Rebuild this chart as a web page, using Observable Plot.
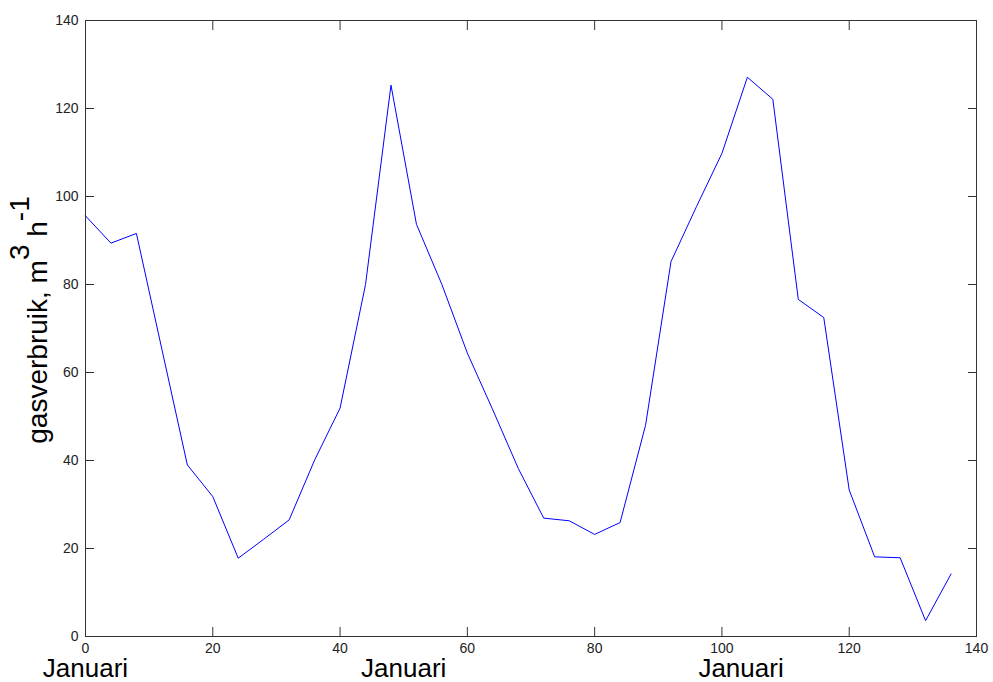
<!DOCTYPE html>
<html><head><meta charset="utf-8">
<script src="https://cdn.jsdelivr.net/npm/d3@7"></script>
<script src="https://cdn.jsdelivr.net/npm/@observablehq/plot@0.6"></script>
<style>body{margin:0;background:#fff}</style>
</head><body><div id="chart"></div>
<script>
const hours = [0,4,8,12,16,20,24,28,32,36,40,44,48,52,56,60,64,68,72,76,80,84,88,92,96,100,104,108,112,116,120,124,128,132,136];
const gas = [95.6,89.4,91.6,65.3,39.0,31.8,17.8,22.1,26.5,40.1,51.9,80.0,125.3,93.7,80.0,64.4,51.5,38.2,26.9,26.3,23.2,25.9,48.0,85.2,97.7,109.8,127.1,122.1,76.6,72.5,33.3,18.1,17.9,3.6,14.2];
const xTicks = [0,20,40,60,80,100,120,140];
const yTicks = [0,20,40,60,80,100,120,140];
const januariX = [0,50,103];
const januariText = "Januari";
const yLabelParts = ["gasverbruik, m", "3", " h", "-1"];

const data = hours.map((h, i) => ({h, g: gas[i]}));
const font = "'Liberation Sans', Arial, Helvetica, sans-serif";
const axisColor = "#333";

const plot = Plot.plot({
  width: 993, height: 682,
  marginLeft: 85, marginRight: 17, marginTop: 20, marginBottom: 46,
  style: {fontFamily: font, fontSize: "14px", background: "#fff", color: "#222", overflow: "visible"},
  x: {domain: [0, 140]},
  y: {domain: [0, 140]},
  marks: [
    Plot.line(data, {x: "h", y: "g", stroke: "#0000ff", strokeWidth: 1}),
    Plot.frame({stroke: axisColor}),
    Plot.axisX(xTicks, {anchor: "bottom", tickSize: -9, tickFormat: () => "", label: null, stroke: axisColor}),
    Plot.axisX(xTicks, {anchor: "top", tickSize: -9, tickFormat: () => "", label: null, stroke: axisColor}),
    Plot.axisY(yTicks, {anchor: "left", tickSize: -9, tickFormat: () => "", label: null, stroke: axisColor}),
    Plot.axisY(yTicks, {anchor: "right", tickSize: -9, tickFormat: () => "", label: null, stroke: axisColor}),
    Plot.axisX(xTicks, {anchor: "bottom", tickSize: 0, tickPadding: 7, label: null, fill: "#222"}),
    Plot.axisY(yTicks, {anchor: "left", tickSize: 0, tickPadding: 7, label: null, fill: "#222"}),
    Plot.text(januariX, {x: d => d, frameAnchor: "bottom", lineAnchor: "bottom", dy: 40, text: () => januariText, fontSize: 26, fill: "#000", textAnchor: "middle"})
  ]
});

const svg = d3.select(plot);
const t = svg.append("text")
  .attr("transform", "translate(47,320) rotate(-90)")
  .attr("text-anchor", "middle")
  .attr("fill", "#000")
  .style("font-family", font)
  .style("font-size", "28px");
t.append("tspan").text(yLabelParts[0]);
t.append("tspan").attr("dy", -18).text(yLabelParts[1]);
t.append("tspan").attr("dy", 18).text(yLabelParts[2]);
t.append("tspan").attr("dy", -18).text(yLabelParts[3]);

document.getElementById("chart").appendChild(plot);
</script>
</body></html>
